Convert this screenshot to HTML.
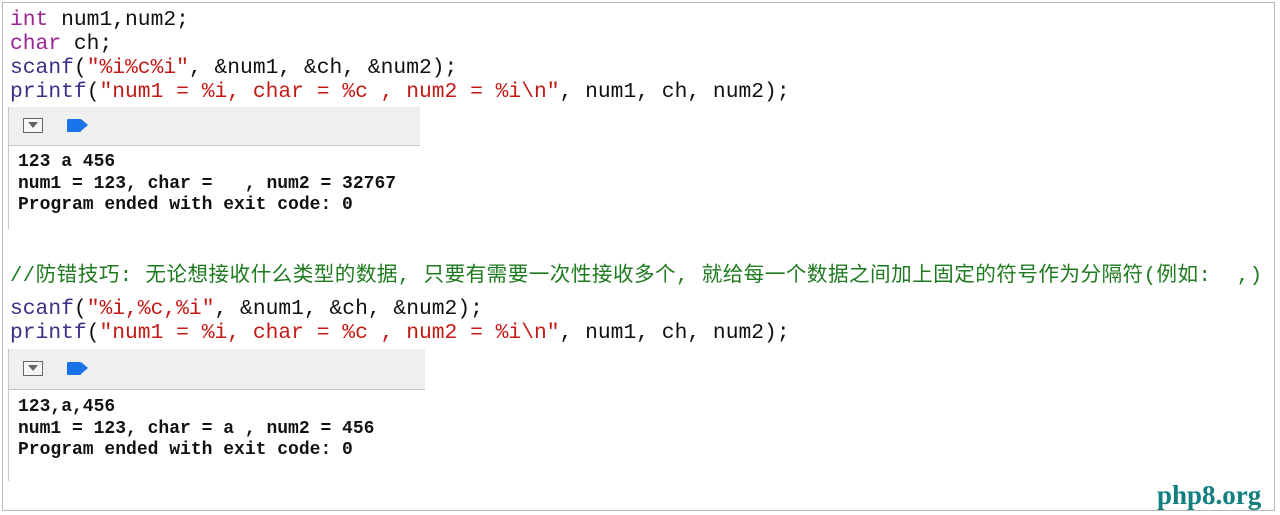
<!DOCTYPE html>
<html><head><meta charset="utf-8"><style>
html,body{margin:0;padding:0;background:#fff;}
#c{position:relative;width:1280px;height:515px;overflow:hidden;background:#fff;}
.frame{position:absolute;left:2px;top:2px;width:1273px;height:509px;border:1px solid #b8b8b8;box-sizing:border-box;}
.code{position:absolute;left:10px;font-family:"Liberation Mono",monospace;font-size:21.3px;line-height:24px;white-space:pre;color:#111;}
.k{color:#9b2393;}
.f{color:#3b2f86;}
.s{color:#c41a16;}
.cm{position:absolute;left:10px;top:264px;font-family:"Liberation Mono","Noto Sans CJK SC",monospace;font-size:20.6px;line-height:26px;white-space:pre;color:#1e7a1e;letter-spacing:0.45px;}
.hdr{position:absolute;left:9px;background:#efefef;border-bottom:1.5px solid #c8c8c8;}
.vl{position:absolute;left:8px;width:1px;background:#c8c8c8;}
.btn{position:absolute;left:14px;width:20px;height:15px;border:1.5px solid #666;box-sizing:border-box;background:#f6f6f6;}
.btn:after{content:"";position:absolute;left:4px;top:3px;border-left:5px solid transparent;border-right:5px solid transparent;border-top:6px solid #666;}
.bb{position:absolute;left:58px;width:14px;height:13px;background:#1a73e8;border-radius:1px;}
.bb:after{content:"";position:absolute;left:14px;top:0;border-top:6.5px solid transparent;border-bottom:6.5px solid transparent;border-left:7px solid #1a73e8;}
.out{position:absolute;left:18px;font-family:"Liberation Mono",monospace;font-weight:bold;font-size:18px;line-height:21.5px;white-space:pre;color:#111;}
.logo{position:absolute;left:1157px;top:480px;font-family:"Liberation Serif",serif;font-weight:bold;font-size:27px;color:#127f7f;}
</style></head><body><div id="c">
<div class="frame"></div>
<div class="code" style="top:8px"><span class="k">int</span> num1,num2;
<span class="k">char</span> ch;
<span class="f">scanf</span>(<span class="s">"%i%c%i"</span>, &amp;num1, &amp;ch, &amp;num2);
<span class="f">printf</span>(<span class="s">"num1 = %i, char = %c , num2 = %i\n"</span>, num1, ch, num2);</div>
<div class="hdr" style="top:107px;width:411px;height:38px;"><div class="btn" style="top:11px;left:14px"></div><div class="bb" style="top:12px;left:58px"></div></div>
<div class="vl" style="top:107px;height:122px;"></div>
<div class="out" style="top:152px">123 a 456
num1 = 123, char =   , num2 = 32767
Program ended with exit code: 0</div>
<div class="cm">//防错技巧: 无论想接收什么类型的数据, 只要有需要一次性接收多个, 就给每一个数据之间加上固定的符号作为分隔符(例如:  ,)</div>
<div class="code" style="top:297px"><span class="f">scanf</span>(<span class="s">"%i,%c,%i"</span>, &amp;num1, &amp;ch, &amp;num2);
<span class="f">printf</span>(<span class="s">"num1 = %i, char = %c , num2 = %i\n"</span>, num1, ch, num2);</div>
<div class="hdr" style="top:349px;width:416px;height:40px;"><div class="btn" style="top:12px;left:14px"></div><div class="bb" style="top:13px;left:58px"></div></div>
<div class="vl" style="top:349px;height:132px;"></div>
<div class="out" style="top:397px">123,a,456
num1 = 123, char = a , num2 = 456
Program ended with exit code: 0</div>
<div class="logo">php8.org</div>
</div></body></html>
